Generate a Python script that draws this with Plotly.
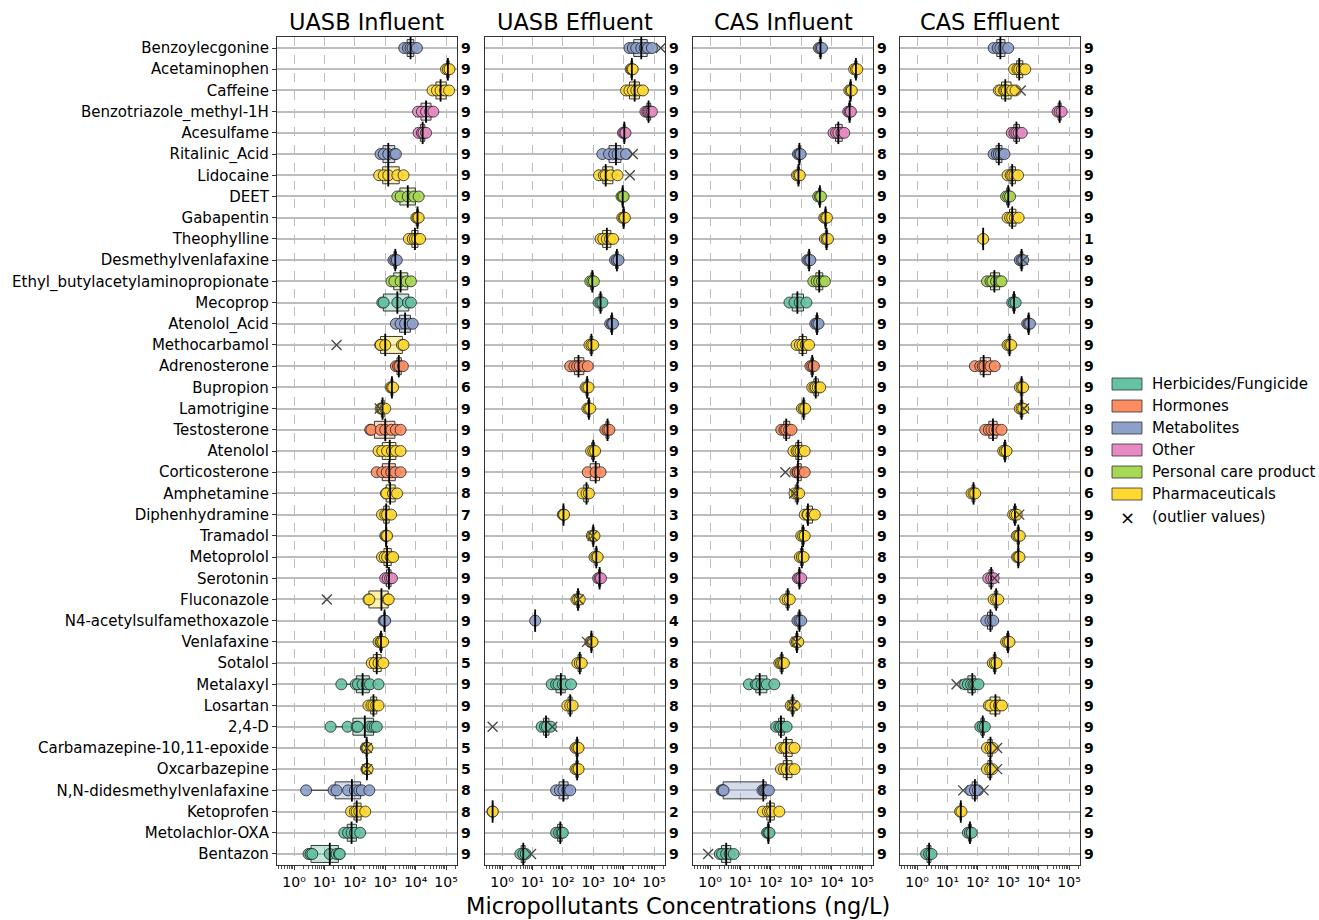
import numpy as np
import plotly.graph_objects as go

# ---------------------------------------------------------------- data
compounds = [
    "Benzoylecgonine", "Acetaminophen", "Caffeine", "Benzotriazole_methyl-1H",
    "Acesulfame", "Ritalinic_Acid", "Lidocaine", "DEET", "Gabapentin",
    "Theophylline", "Desmethylvenlafaxine", "Ethyl_butylacetylaminopropionate",
    "Mecoprop", "Atenolol_Acid", "Methocarbamol", "Adrenosterone", "Bupropion",
    "Lamotrigine", "Testosterone", "Atenolol", "Corticosterone", "Amphetamine",
    "Diphenhydramine", "Tramadol", "Metoprolol", "Serotonin", "Fluconazole",
    "N4-acetylsulfamethoxazole", "Venlafaxine", "Sotalol", "Metalaxyl",
    "Losartan", "2,4-D", "Carbamazepine-10,11-epoxide", "Oxcarbazepine",
    "N,N-didesmethylvenlafaxine", "Ketoprofen", "Metolachlor-OXA", "Bentazon",
]

classes = [
    "Metabolites", "Pharmaceuticals", "Pharmaceuticals", "Other",
    "Other", "Metabolites", "Pharmaceuticals", "Personal care product", "Pharmaceuticals",
    "Pharmaceuticals", "Metabolites", "Personal care product",
    "Herbicides/Fungicide", "Metabolites", "Pharmaceuticals", "Hormones", "Pharmaceuticals",
    "Pharmaceuticals", "Hormones", "Pharmaceuticals", "Hormones", "Pharmaceuticals",
    "Pharmaceuticals", "Pharmaceuticals", "Pharmaceuticals", "Other", "Pharmaceuticals",
    "Metabolites", "Pharmaceuticals", "Pharmaceuticals", "Herbicides/Fungicide",
    "Pharmaceuticals", "Herbicides/Fungicide", "Pharmaceuticals", "Pharmaceuticals",
    "Metabolites", "Pharmaceuticals", "Herbicides/Fungicide", "Herbicides/Fungicide",
]

class_order = ["Herbicides/Fungicide", "Hormones", "Metabolites", "Other",
               "Personal care product", "Pharmaceuticals"]
class_colors = ["#66c2a5", "#fc8d62", "#8da0cb", "#e78ac3", "#a6d854", "#ffd92f"]

panel_titles = ["UASB Influent", "UASB Effluent", "CAS Influent", "CAS Effluent"]

# concentrations (ng/L), one list per compound, in the order of `compounds`
uasb_influent = [
    [4200, 5600, 6800, 7900, 11000], [100000, 115000, 130000],
    [36000, 50000, 66000, 93000, 126000], [12000, 16000, 22000, 30000, 38000],
    [12500, 16000, 18000, 22000], [700, 890, 1260, 2000, 2240],
    [630, 890, 1260, 2500, 4000], [2500, 3200, 5500, 8900, 12600],
    [10500, 11500, 12600], [6000, 8000, 9500, 11200, 14000],
    [1860, 2140, 2400], [1600, 2000, 3200, 5000, 7000],
    [800, 890, 2500, 5600, 7000], [2240, 3200, 4500, 6300, 8000],
    [680, 710, 1000, 3550, 4000], [2240, 2630, 2950, 3800],
    [1500, 1660, 1820], [710, 780, 850, 1000],
    [320, 350, 710, 1000, 1580, 2240, 3200], [600, 800, 1150, 1660, 2240, 3200],
    [520, 800, 1120, 1580, 2140, 3200], [1050, 1100, 1800, 2450],
    [780, 1000, 1150, 1550], [1000, 1070, 1150],
    [780, 950, 1150, 1500, 1820], [1000, 1200, 1450, 1660],
    [280, 300, 1200, 1300], [880, 950, 1000],
    [600, 700, 750, 850], [360, 450, 600, 870],
    [36, 107, 126, 180, 250, 316, 600], [280, 350, 410, 500, 600],
    [16, 58, 115, 125, 300, 380, 450, 525], [230, 245, 260],
    [240, 250, 265], [2.5, 20, 25, 60, 100, 140, 170, 300],
    [75, 100, 115, 140, 220], [45, 60, 78, 100, 150],
    [3, 3.5, 4, 15, 25, 30, 32],
]
uasb_effluent = [
    [15500, 20000, 26000, 38000, 49000, 63000, 85000], [17000, 18600, 20000],
    [12000, 15500, 20000, 26000, 33000, 43000], [52000, 60000, 66000, 75000, 85000],
    [9500, 10500, 11500], [2000, 3300, 4900, 6300, 8100, 12000],
    [1550, 2240, 2570, 3800, 6300], [8500, 9300, 10000],
    [9000, 10000, 11000], [1740, 2140, 2800, 3550, 4500],
    [5200, 6000, 6800], [800, 930, 1050],
    [1500, 1740, 2000], [3600, 4100, 4500],
    [750, 870, 1000], [175, 240, 295, 360, 490, 660],
    [560, 630, 700], [640, 720, 800],
    [2500, 2950, 3400], [850, 1000, 1150],
    [660, 1200, 1740], [450, 600, 720],
    [100, 105, 110], [900, 1000, 1100],
    [1100, 1260, 1400], [1450, 1620, 1800],
    [280, 316, 360], [12.3],
    [800, 870, 950], [300, 360, 420],
    [43, 60, 72, 100, 120, 186], [140, 175, 210],
    [20, 26, 30, 40], [260, 295, 330],
    [260, 295, 330], [60, 80, 105, 140, 175],
    [0.48, 0.5], [60, 75, 90, 100],
    [4, 5, 6],
]
cas_influent = [
    [3800, 4300, 4800], [55000, 63000, 70000],
    [38000, 42000, 46000], [35000, 39000, 43000],
    [11500, 14000, 16600, 21000, 26000], [780, 870, 960],
    [720, 810, 900], [3600, 4100, 4500],
    [5700, 6300, 7000], [6000, 6800, 7600],
    [1600, 1820, 2000], [2500, 3200, 3900, 4800, 6000],
    [410, 600, 890, 1480], [2900, 3300, 3700],
    [700, 900, 1100, 1400, 1800], [2000, 2300, 2600],
    [2300, 2700, 3000, 3500, 4200], [1050, 1200, 1350],
    [220, 280, 320, 400, 480], [550, 700, 800, 950, 1300],
    [650, 750, 780, 900, 1300], [600, 740, 850],
    [1300, 1600, 1660, 2200, 2800], [1000, 1150, 1300],
    [900, 1050, 1200], [780, 870, 1000],
    [300, 360, 420], [750, 870, 1000],
    [640, 720, 800], [190, 215, 240, 270],
    [19, 32, 36, 50, 74, 130], [450, 520, 600],
    [150, 190, 215, 260, 330], [215, 280, 320, 470, 600],
    [215, 270, 330, 460, 600], [2.4, 2.6, 2.8, 53, 60, 66, 75, 86],
    [55, 80, 95, 110, 190], [75, 83, 90],
    [2.1, 2.5, 3.4, 4.4, 6],
]
cas_effluent = [
    [330, 450, 550, 700, 1000], [1550, 2000, 2300, 2800, 3600],
    [490, 560, 720, 800, 900, 1350, 1740], [42000, 49000, 57000],
    [1300, 1600, 1860, 2200, 2800], [330, 420, 490, 580, 750],
    [950, 1200, 1350, 1600, 2100], [850, 1000, 1150],
    [950, 1150, 1350, 1650, 2200], [150],
    [2400, 2750, 3100], [200, 260, 300, 400, 520, 600],
    [1350, 1550, 1750], [4200, 4700, 5200],
    [950, 1100, 1250], [80, 120, 145, 165, 260, 360],
    [2400, 2750, 3100], [2400, 2750, 3100],
    [175, 230, 280, 350, 430, 600], [680, 780, 880],
    [], [62, 72, 82],
    [1450, 1660, 1900], [1900, 2140, 2400],
    [1950, 2140, 2350], [220, 275, 330],
    [330, 400, 470], [190, 260, 320],
    [850, 980, 1100], [310, 360, 410],
    [38, 47, 60, 72, 82, 105], [230, 260, 380, 500, 620],
    [120, 145, 170], [200, 260, 310],
    [200, 255, 300], [60, 80, 100],
    [26, 29], [47, 55, 63],
    [2.0, 2.5, 3.0],
]

# number of samples per compound
uasb_influent_n = [9, 9, 9, 9, 9, 9, 9, 9, 9, 9, 9, 9, 9, 9, 9, 9, 6, 9, 9, 9,
                   9, 8, 7, 9, 9, 9, 9, 9, 9, 5, 9, 9, 9, 5, 5, 8, 8, 9, 9]
uasb_effluent_n = [9, 9, 9, 9, 9, 9, 9, 9, 9, 9, 9, 9, 9, 9, 9, 9, 9, 9, 9, 9,
                   3, 9, 3, 9, 9, 9, 9, 4, 9, 8, 9, 8, 9, 9, 9, 9, 2, 9, 9]
cas_influent_n = [9, 9, 9, 9, 9, 8, 9, 9, 9, 9, 9, 9, 9, 9, 9, 9, 9, 9, 9, 9,
                  9, 9, 9, 9, 8, 9, 9, 9, 9, 8, 9, 9, 9, 9, 9, 8, 9, 9, 9]
cas_effluent_n = [9, 9, 8, 9, 9, 9, 9, 9, 9, 1, 9, 9, 9, 9, 9, 9, 9, 9, 9, 9,
                  0, 6, 9, 9, 9, 9, 9, 9, 9, 9, 9, 9, 9, 9, 9, 9, 2, 9, 9]

# outlier values (ng/L)
uasb_influent_outliers = [("Methocarbamol", 25), ("Fluconazole", 12), ("Lamotrigine", 660),
                          ("Carbamazepine-10,11-epoxide", 250), ("Oxcarbazepine", 255)]
uasb_effluent_outliers = [("Benzoylecgonine", 166000), ("Ritalinic_Acid", 20000),
                          ("Lidocaine", 16000), ("2,4-D", 0.49), ("2,4-D", 45),
                          ("Venlafaxine", 620), ("Tramadol", 950), ("Bentazon", 9),
                          ("Fluconazole", 330)]
cas_influent_outliers = [("Corticosterone", 300), ("Bentazon", 0.87), ("Amphetamine", 580),
                         ("Venlafaxine", 700), ("Losartan", 520)]
cas_effluent_outliers = [("Caffeine", 2570), ("Metalaxyl", 20),
                         ("N,N-didesmethylvenlafaxine", 33), ("N,N-didesmethylvenlafaxine", 155),
                         ("Carbamazepine-10,11-epoxide", 430), ("Oxcarbazepine", 430),
                         ("Desmethylvenlafaxine", 3100), ("Lamotrigine", 3300),
                         ("Diphenhydramine", 2300), ("Serotonin", 350)]

tick_vals = [1, 10, 100, 1000, 10000, 100000]
tick_text = ["10⁰", "10¹", "10²", "10³", "10⁴", "10⁵"]

# ---------------------------------------------------------------- layout helpers
W, H = 1319, 920
FONT = "DejaVu Sans"
panel_px = [(277, 457), (485, 665), (693, 873), (900, 1080)]
plot_top, plot_bottom = 37, 865


def rgba(hex_color, a):
    h = hex_color.lstrip("#")
    r, g, b = int(h[0:2], 16), int(h[2:4], 16), int(h[4:6], 16)
    return f"rgba({r},{g},{b},{a})"


color_of = dict(zip(class_order, class_colors))
panels = [
    (uasb_influent, uasb_influent_n, uasb_influent_outliers),
    (uasb_effluent, uasb_effluent_n, uasb_effluent_outliers),
    (cas_influent, cas_influent_n, cas_influent_outliers),
    (cas_effluent, cas_effluent_n, cas_effluent_outliers),
]

fig = go.Figure()
annotations = []
layout_axes = {}

for p, (vals, counts, outliers) in enumerate(panels):
    suffix = "" if p == 0 else str(p + 1)
    xa, ya = "x" + suffix, "y" + suffix

    # boxes
    for cls in class_order:
        xs, ys = [], []
        for i, c in enumerate(classes):
            if c == cls and vals[i]:
                xs += vals[i]
                ys += [compounds[i]] * len(vals[i])
        if not xs:
            continue
        fig.add_trace(go.Box(
            x=xs, y=ys, orientation="h", xaxis=xa, yaxis=ya,
            boxpoints=False, fillcolor=rgba(color_of[cls], 0.38),
            line=dict(color="#3a3a3a", width=1), width=0.8, whiskerwidth=0,
            quartilemethod="linear", showlegend=False, hoverinfo="skip",
        ))

    # sample points
    for cls in class_order:
        xs, ys = [], []
        for i, c in enumerate(classes):
            if c == cls and vals[i]:
                xs += vals[i]
                ys += [compounds[i]] * len(vals[i])
        if not xs:
            continue
        fig.add_trace(go.Scatter(
            x=xs, y=ys, mode="markers", xaxis=xa, yaxis=ya,
            marker=dict(symbol="circle", size=11, color=color_of[cls], opacity=0.9,
                        line=dict(color="#222222", width=0.9)),
            showlegend=False, hoverinfo="skip",
        ))

    # medians
    med_x = [float(np.median(v)) for v in vals if v]
    med_y = [compounds[i] for i, v in enumerate(vals) if v]
    fig.add_trace(go.Scatter(
        x=med_x, y=med_y, mode="markers", xaxis=xa, yaxis=ya,
        marker=dict(symbol="line-ns", size=16, line=dict(color="black", width=1.8)),
        showlegend=False, hoverinfo="skip",
    ))

    # outliers
    fig.add_trace(go.Scatter(
        x=[v for _, v in outliers], y=[c for c, _ in outliers], mode="markers",
        xaxis=xa, yaxis=ya,
        marker=dict(symbol="x-thin", size=10, line=dict(color="#444444", width=1.3)),
        showlegend=False, hoverinfo="skip",
    ))

    x0, x1 = panel_px[p]
    layout_axes["xaxis" + suffix] = dict(
        domain=[x0 / W, x1 / W], anchor=ya, type="log", range=[-0.56, 5.36],
        tickmode="array", tickvals=tick_vals, ticktext=tick_text,
        ticks="outside", ticklen=4, tickcolor="#333333",
        tickfont=dict(family=FONT, size=14, color="black"),
        minor=dict(ticks="outside", ticklen=2.5, tickcolor="#555555", dtick="D1",
                   showgrid=False),
        showgrid=True, gridcolor="#bdbdbd", griddash="dash", gridwidth=1,
        showline=True, mirror=True, linecolor="#333333", linewidth=1.2, zeroline=False,
    )
    layout_axes["yaxis" + suffix] = dict(
        domain=[1 - plot_bottom / H, 1 - plot_top / H], anchor=xa, type="category",
        categoryorder="array", categoryarray=compounds, range=[38.52, -0.52],
        showgrid=True, gridcolor="#bdbdbd", gridwidth=1.5,
        showline=True, mirror=True, linecolor="#333333", linewidth=1.2,
        showticklabels=(p == 0), ticks="outside" if p == 0 else "", ticklen=4,
        tickcolor="#333333",
        tickfont=dict(family=FONT, size=15, color="black"),
    )

    # sample counts at the right of each panel
    for i, c in enumerate(compounds):
        annotations.append(dict(
            xref=f"{xa} domain", x=1, xanchor="left", xshift=2,
            yref=ya, y=c, text=f"<b>{counts[i]}</b>", showarrow=False,
            font=dict(family=FONT, size=14, color="black"),
        ))

    # panel title
    annotations.append(dict(
        xref="paper", x=(x0 + x1) / 2 / W, yref="paper", y=1 - 22 / H,
        text=panel_titles[p], showarrow=False, xanchor="center", yanchor="middle",
        font=dict(family=FONT, size=22.5, color="black"),
    ))

# shared x title
annotations.append(dict(
    xref="paper", x=678 / W, yref="paper", y=1 - 906 / H,
    text="Micropollutants Concentrations (ng/L)", showarrow=False,
    xanchor="center", yanchor="middle", font=dict(family=FONT, size=22.5, color="black"),
))

# legend
shapes = []
leg_x0, leg_x1, leg_text_x = 1112, 1142, 1150
leg_rows = [384, 406, 428, 450, 472, 494]
for cls, col, yc in zip(class_order, class_colors, leg_rows):
    shapes.append(dict(type="rect", xref="paper", yref="paper",
                       x0=leg_x0 / W, x1=leg_x1 / W,
                       y0=1 - (yc + 6) / H, y1=1 - (yc - 6) / H,
                       fillcolor=col, line=dict(color="#333333", width=0.8)))
    annotations.append(dict(xref="paper", x=leg_text_x / W, yref="paper", y=1 - yc / H,
                            text=cls, showarrow=False, xanchor="left", yanchor="middle",
                            font=dict(family=FONT, size=15, color="black")))
annotations.append(dict(xref="paper", x=1127 / W, yref="paper", y=1 - 517 / H,
                        text="×", showarrow=False, xanchor="center", yanchor="middle",
                        font=dict(family=FONT, size=18, color="black")))
annotations.append(dict(xref="paper", x=leg_text_x / W, yref="paper", y=1 - 517 / H,
                        text="(outlier values)", showarrow=False, xanchor="left",
                        yanchor="middle", font=dict(family=FONT, size=15, color="black")))

fig.update_layout(
    width=W, height=H, margin=dict(l=0, r=0, t=0, b=0),
    paper_bgcolor="white", plot_bgcolor="white",
    font=dict(family=FONT, color="black"),
    boxmode="overlay", showlegend=False,
    annotations=annotations, shapes=shapes,
    **layout_axes,
)

fig.write_html("out.html")
